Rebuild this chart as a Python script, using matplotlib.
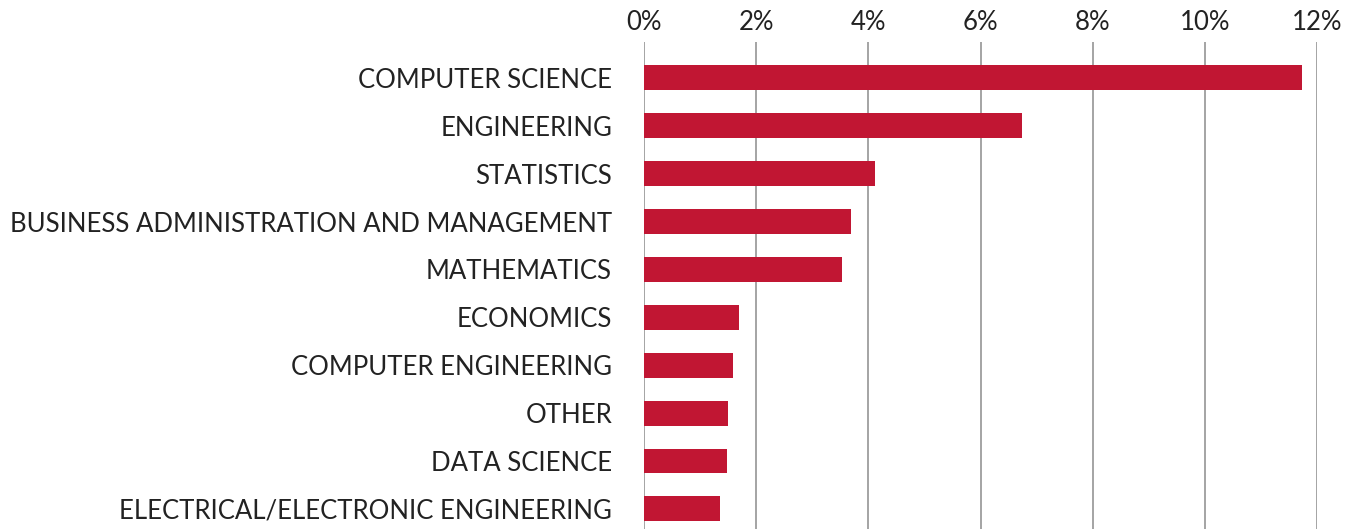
import matplotlib.pyplot as plt
from matplotlib.ticker import FuncFormatter

majors = ['COMPUTER SCIENCE', 'ENGINEERING', 'STATISTICS',
          'BUSINESS ADMINISTRATION AND MANAGEMENT', 'MATHEMATICS', 'ECONOMICS',
          'COMPUTER ENGINEERING', 'OTHER', 'DATA SCIENCE',
          'ELECTRICAL/ELECTRONIC ENGINEERING']
share = [11.74, 6.74, 4.12, 3.69, 3.53, 1.69, 1.58, 1.50, 1.48, 1.36]

plt.rcParams['font.family'] = ['Lato', 'DejaVu Sans']

fig = plt.figure(figsize=(13.61, 5.29), dpi=100)
ax = fig.add_axes([0.4732, 0.0, 0.4945, 0.9206])

ypos = list(range(len(majors)))
ax.barh(ypos, share, height=0.52, color='#C11633', zorder=2)

ax.set_xlim(0, 12)
ax.set_ylim(9.42, -0.75)
ax.set_xticks(range(0, 13, 2))
ax.xaxis.set_major_formatter(FuncFormatter(lambda v, p: f'{v:.0f}%'))
ax.xaxis.tick_top()
ax.set_yticks(ypos)
ax.set_yticklabels(majors)
ax.tick_params(axis='both', length=0, labelsize=18.5, colors='#222222')
ax.tick_params(axis='y', pad=23)
ax.tick_params(axis='x', pad=5)
ax.grid(axis='x', color='#8c8c8c', linewidth=1.1, zorder=0)
for s in ax.spines.values():
    s.set_visible(False)

fig.savefig('out.png', dpi=100)
